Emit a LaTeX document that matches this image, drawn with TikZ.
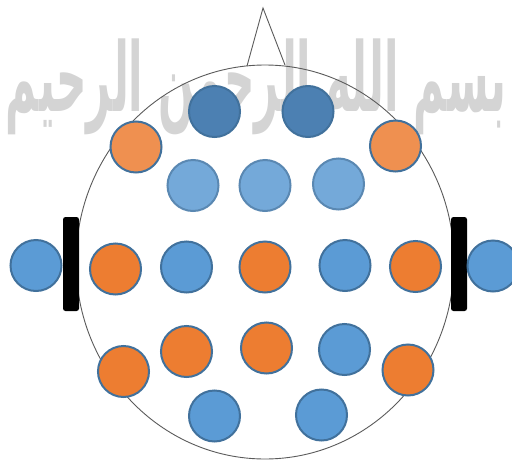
\documentclass[tikz,border=0pt]{standalone}
\usepackage{fontspec}
\usepackage{graphicx}
\newfontfamily\arabicfont[Script=Arabic]{DejaVu Sans}
\TeXXeTstate=1
\definecolor{eblue}{HTML}{5B9BD5}
\definecolor{eorange}{HTML}{ED7D31}
\definecolor{edarkblue}{HTML}{4C80B2}
\definecolor{elightblue}{HTML}{74A9D9}
\definecolor{elightorange}{HTML}{EF9050}
\definecolor{eline}{HTML}{41719C}
\definecolor{elinelight}{HTML}{5A88B2}
\definecolor{wmgray}{HTML}{D4D4D4}
\definecolor{headgray}{HTML}{5A5A5A}
\begin{document}
\begin{tikzpicture}[x=1pt,y=-1pt,
  electrode/.style={circle,draw=eline,line width=2pt,minimum size=51pt,inner sep=0pt},
  bluee/.style={electrode,fill=eblue},
  orangee/.style={electrode,fill=eorange},
  darkbluee/.style={electrode,fill=edarkblue},
  lightbluee/.style={electrode,fill=elightblue,draw=elinelight},
  lightorangee/.style={electrode,fill=elightorange},
  headline/.style={draw=headgray,line width=0.9pt},
  ear/.style={fill=black,rounded corners=2.5pt,minimum width=16pt,minimum height=94pt,inner sep=0pt}]
\useasboundingbox (0,0) rectangle (512,461);
% watermark
\node[text=wmgray,inner sep=0pt] (wm) at (256,87) {\resizebox*{500pt}{96pt}{\arabicfont\bfseries\beginR بسم الله الرحمن الرحيم\endR}};
% head
\draw[headline] (265,262) ellipse [x radius=189, y radius=197];
\coordinate (noseL) at (247,66);
\coordinate (noseTip) at (263,8);
\coordinate (noseR) at (285,65);
\draw[headline] (noseL) -- (noseTip) -- (noseR);
% ears
\node[ear] (earL) at (71,264) {};
\node[ear] (earR) at (459,264) {};
% electrodes
\node[darkbluee] (t1) at (214.5,111.5) {};
\node[darkbluee] (t2) at (308,111.5) {};
\node[lightorangee] (a1) at (136,147) {};
\node[lightorangee] (a2) at (395.5,146) {};
\node[lightbluee] (b1) at (193,185.5) {};
\node[lightbluee] (b2) at (265,185.5) {};
\node[lightbluee] (b3) at (338.5,184) {};
\node[bluee] (m1) at (36,265.5) {};
\node[orangee] (m2) at (115.5,269) {};
\node[bluee] (m3) at (186.5,267) {};
\node[orangee] (m4) at (265,267) {};
\node[bluee] (m5) at (345,265.5) {};
\node[orangee] (m6) at (415.5,266.5) {};
\node[bluee] (m7) at (493,266) {};
\node[orangee] (l1) at (123.5,371.5) {};
\node[orangee] (l2) at (186.5,351.5) {};
\node[orangee] (l3) at (266.5,348) {};
\node[bluee] (l4) at (344.5,349.5) {};
\node[orangee] (l5) at (408,370) {};
\node[bluee] (o1) at (214.5,416) {};
\node[bluee] (o2) at (321.5,415) {};
\end{tikzpicture}
\end{document}
